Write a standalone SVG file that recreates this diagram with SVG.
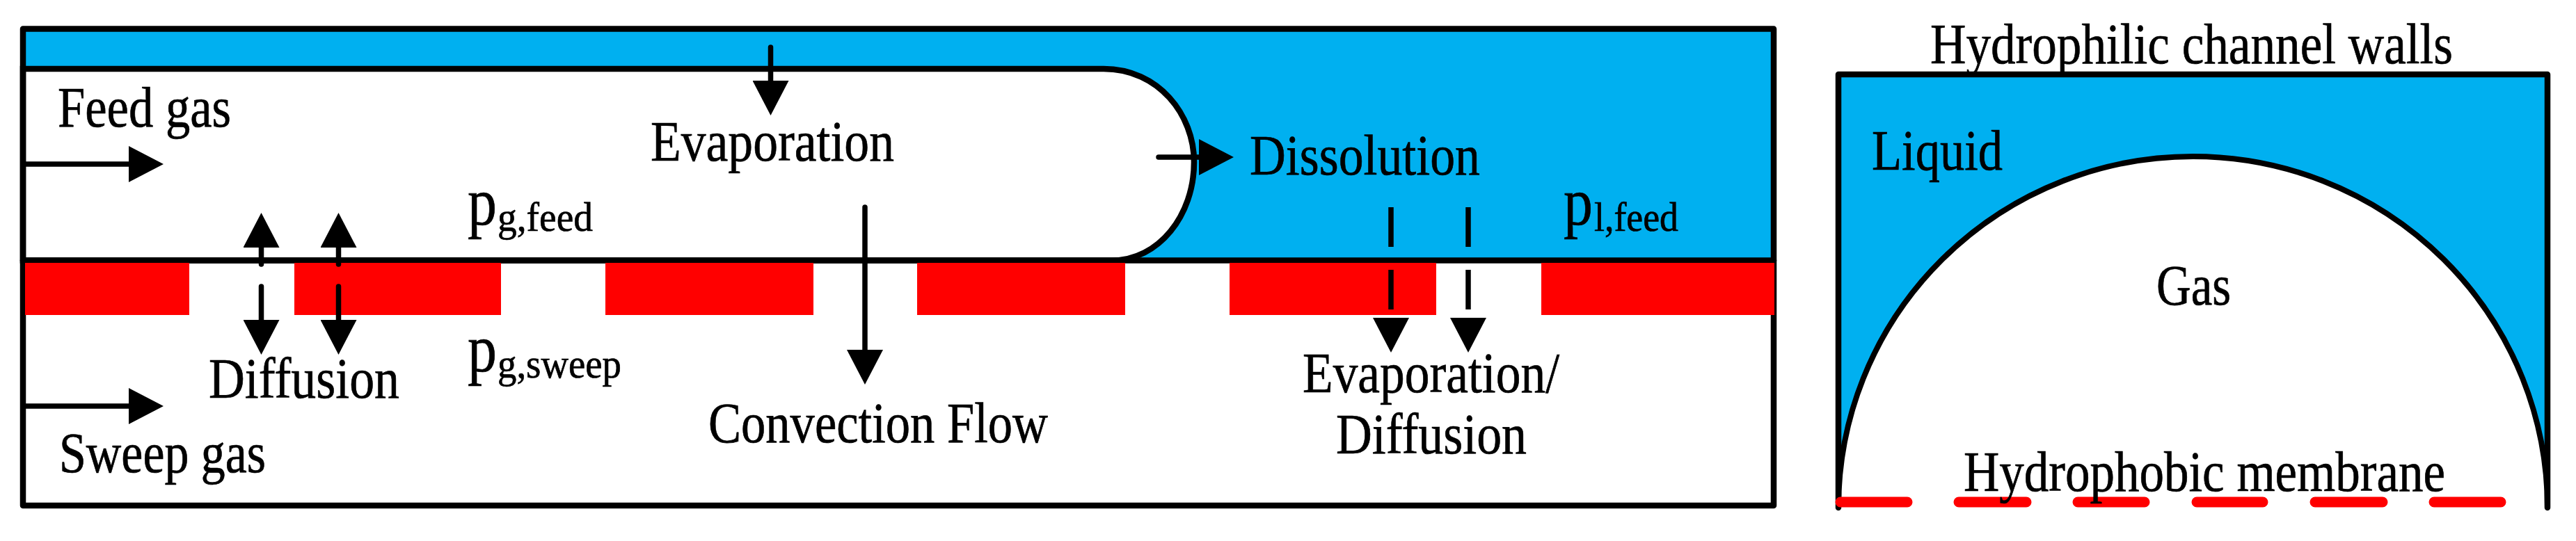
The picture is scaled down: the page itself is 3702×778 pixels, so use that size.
<svg xmlns="http://www.w3.org/2000/svg" width="3702" height="778" viewBox="0 0 3702 778">
<style>
text{font-family:"Liberation Serif","Times New Roman",serif;fill:#000;font-size:82px;stroke:#000;stroke-width:.7}
.p{font-size:98px}
.sub{font-size:60px}
.wall{fill:none;stroke:#000;stroke-width:8.500;stroke-linejoin:round;stroke-linecap:round}
.red{fill:#f00}
.blue{fill:#00b0f0}
.arrow{fill:none;stroke:#000;stroke-width:7.500;stroke-linecap:round;marker-end:url(#head)}
</style>
<defs>
<marker id="head" markerUnits="userSpaceOnUse" markerWidth="50" markerHeight="52" refX="0" refY="26" orient="auto" viewBox="0 0 50 52"><path d="M0 0L50 26L0 52Z" fill="#000"/></marker>
</defs>
<rect width="3702" height="778" fill="#fff"/>
<g id="channel">
<rect class="blue" x="33" y="41" width="2516" height="334"/>
<path d="M33 99H1586C1665 99 1716 165 1716 233C1716 310 1665 374.5 1598 374.5H33Z" fill="#fff" stroke="#000" stroke-width="8.500"/>
<rect class="wall" x="33" y="41.500" width="2516" height="685.500"/>
<path class="wall" d="M33 374.500H2549"/>
</g>
<g id="membrane">
<rect class="red" x="36" y="378" width="236" height="75"/>
<rect class="red" x="423" y="378" width="297" height="75"/>
<rect class="red" x="870" y="378" width="299" height="75"/>
<rect class="red" x="1318" y="378" width="299" height="75"/>
<rect class="red" x="1767" y="378" width="297" height="75"/>
<rect class="red" x="2215" y="378" width="335" height="75"/>
</g>
<g id="cross-section">
<rect class="blue" x="2642" y="107" width="1019" height="620"/>
<path d="M2642 730A509.500 505 0 0 1 3661 730" fill="#fff" stroke="#000" stroke-width="8"/>
<path class="wall" d="M2642 730V107H3661V730"/>
<path d="M2645 722H2741M2815 722H2912M2986 722H3082M3157 722H3252M3327 722H3424M3498 722H3594" fill="none" stroke="#f00" stroke-width="15" stroke-linecap="round"/>
</g>
<g id="connectors">
<path class="arrow" d="M33 236H185"/>
<path class="arrow" d="M33 584H185"/>
<path class="arrow" d="M1107.500 68V116"/>
<path class="arrow" d="M375.500 380V356"/>
<path class="arrow" d="M486.500 380V356"/>
<path class="arrow" d="M375.500 412V460"/>
<path class="arrow" d="M486.500 412V460"/>
<path class="arrow" d="M1243 298V503"/>
<path class="arrow" d="M1665 226H1723"/>
<path class="arrow" stroke-dasharray="57 33 57 12" style="stroke-linecap:butt" d="M1999 298V457"/>
<path class="arrow" stroke-dasharray="57 33 57 12" style="stroke-linecap:butt" d="M2110 298V457"/>
</g>
<g id="labels">
<text id="feed-gas" x="83" y="182" textLength="249" lengthAdjust="spacingAndGlyphs">Feed gas</text>
<text id="evaporation" x="935" y="231" textLength="350" lengthAdjust="spacingAndGlyphs">Evaporation</text>
<text class="p" x="672" y="323" textLength="42" lengthAdjust="spacingAndGlyphs">p</text>
<text class="sub" x="715" y="332" textLength="137" lengthAdjust="spacingAndGlyphs">g,feed</text>
<text id="diffusion-left" x="300" y="572" textLength="274" lengthAdjust="spacingAndGlyphs">Diffusion</text>
<text class="p" x="672" y="534" textLength="42" lengthAdjust="spacingAndGlyphs">p</text>
<text class="sub" x="715" y="543" textLength="178" lengthAdjust="spacingAndGlyphs">g,sweep</text>
<text id="sweep-gas" x="85" y="679" textLength="297" lengthAdjust="spacingAndGlyphs">Sweep gas</text>
<text id="convection" x="1018" y="636" textLength="488" lengthAdjust="spacingAndGlyphs">Convection Flow</text>
<text id="dissolution" x="1796" y="251" textLength="331" lengthAdjust="spacingAndGlyphs">Dissolution</text>
<text class="p" x="2247" y="323" textLength="42" lengthAdjust="spacingAndGlyphs">p</text>
<text class="sub" x="2291" y="332" textLength="121" lengthAdjust="spacingAndGlyphs">l,feed</text>
<text id="evap-diff-1" x="1872" y="564" textLength="369" lengthAdjust="spacingAndGlyphs">Evaporation/</text>
<text id="evap-diff-2" x="1920" y="652" textLength="274" lengthAdjust="spacingAndGlyphs">Diffusion</text>
<text id="walls" x="2774" y="91" textLength="751" lengthAdjust="spacingAndGlyphs">Hydrophilic channel walls</text>
<text id="liquid" x="2690" y="244" textLength="188" lengthAdjust="spacingAndGlyphs">Liquid</text>
<text id="gas" x="3099" y="438" textLength="107" lengthAdjust="spacingAndGlyphs">Gas</text>
<text id="hydrophobic" x="2822" y="706" textLength="692" lengthAdjust="spacingAndGlyphs">Hydrophobic membrane</text>
</g>
</svg>
